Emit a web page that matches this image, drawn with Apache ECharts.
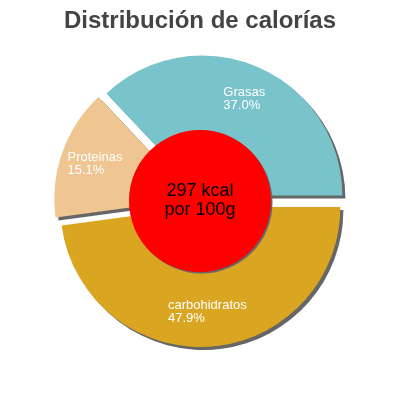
<!DOCTYPE html>
<html>
<head>
<meta charset="utf-8">
<script src="https://cdn.jsdelivr.net/npm/echarts@6/dist/echarts.min.js"></script>
<style>
  html, body { margin: 0; padding: 0; background: #fff; }
  #main { width: 400px; height: 400px; }
</style>
</head>
<body>
<div id="main"></div>
<script>
// datos
var categorias = ['Grasas', 'Proteinas', 'carbohidratos'];
var porcentajes = [37.0, 15.1, 47.9];
var colores = ['#79c4cb', '#efc592', '#daa520'];
var textoCentro = ['297 kcal', 'por 100g'];

var datos = [];
for (var i = 0; i < categorias.length; i++) {
  datos.push({
    name: categorias[i],
    value: porcentajes[i],
    selected: true,
    itemStyle: { color: colores[i] }
  });
}

var option = {
  animation: false,
  title: {
    text: 'Distribución de calorías',
    left: 'center',
    top: 4,
    textStyle: {
      fontFamily: 'Liberation Sans',
      fontSize: 24,
      fontWeight: 'bold',
      color: '#444'
    }
  },
  series: [
    {
      type: 'pie',
      center: [200, 201],
      radius: [65, 140],
      startAngle: 0,
      clockwise: false,
      selectedMode: 'multiple',
      selectedOffset: 6,
      emphasis: { disabled: true },
      itemStyle: {
        shadowColor: '#666',
        shadowBlur: 0,
        shadowOffsetX: 3,
        shadowOffsetY: 3
      },
      label: {
        show: true,
        position: 'inside',
        formatter: function (p) {
          return '{a|' + p.name + '}\n{a|' + p.value.toFixed(1) + '%}';
        },
        rich: {
          a: {
            align: 'left',
            color: '#fff',
            fontFamily: 'Liberation Sans',
            fontSize: 13,
            lineHeight: 13
          }
        }
      },
      labelLine: { show: false },
      data: datos
    },
    {
      type: 'pie',
      center: [200, 201],
      radius: [0, 71],
      silent: true,
      label: {
        show: true,
        position: 'center',
        formatter: textoCentro.join('\n'),
        color: '#000',
        fontFamily: 'Liberation Sans',
        fontSize: 18,
        lineHeight: 19
      },
      labelLine: { show: false },
      itemStyle: {
        color: '#ff0000',
        shadowColor: '#666',
        shadowBlur: 0,
        shadowOffsetX: 1.5,
        shadowOffsetY: 1.5
      },
      data: [{ name: 'kcal', value: 1 }]
    }
  ]
};

var myCharts = echarts.init(document.getElementById('main'));
myCharts.setOption(option);
</script>
</body>
</html>
